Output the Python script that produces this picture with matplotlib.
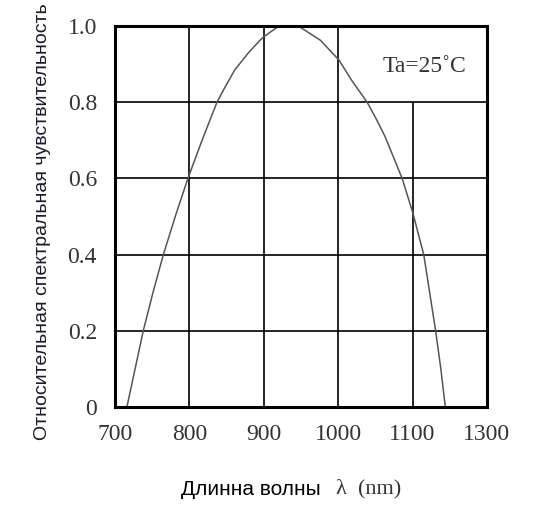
import matplotlib
matplotlib.use("Agg")
import matplotlib.pyplot as plt

# spectral response
wavelength = [716, 727, 738, 751, 765, 781, 798, 817, 837, 848, 861, 879, 895,
              900, 918, 933, 949, 976, 1001, 1018, 1039, 1052, 1063, 1086,
              1100, 1115, 1123, 1131, 1138, 1144]
response = [0.0, 0.1, 0.2, 0.3, 0.4, 0.5, 0.6, 0.7, 0.8, 0.84, 0.885, 0.929, 0.963,
            0.972, 0.997, 1.0, 0.997, 0.963, 0.911, 0.858, 0.8, 0.753, 0.71, 0.6,
            0.512, 0.4, 0.3, 0.2, 0.1, 0.0]

x_ticks = [700, 800, 900, 1000, 1100, 1200]
x_tick_labels = ['700', '800', '900', '1000', '1100', '1300']
y_ticks = [0, 0.2, 0.4, 0.6, 0.8, 1.0]
y_tick_labels = ['0', '0.2', '0.4', '0.6', '0.8', '1.0']

serif = ['Liberation Serif', 'DejaVu Serif']
narrow = ['Liberation Sans Narrow', 'Liberation Sans', 'DejaVu Sans']

fig = plt.figure(figsize=(5.46, 5.22), dpi=100)
ax = fig.add_axes([0.2106, 0.2203, 0.6813, 0.7297])

ax.set_xlim(700, 1200)
ax.set_ylim(0, 1.0)

# grid: the 1100 line stops under the Ta box
for xv in x_ticks[1:4]:
    ax.vlines(xv, 0, 1.0, color='black', linewidth=1.2)
ax.vlines(x_ticks[4], 0, 0.8, color='black', linewidth=1.2)
for yv in y_ticks[1:5]:
    ax.hlines(yv, 700, 1200, color='black', linewidth=1.2)

ax.plot(wavelength, response, color='#555555', linewidth=1.1)

for s in ax.spines.values():
    s.set_linewidth(2.2)
    s.set_color('black')

ax.set_xticks(x_ticks)
ax.set_xticklabels(x_tick_labels, family=serif, fontsize=17, color='#333333')
ax.set_yticks(y_ticks)
ax.set_yticklabels(y_tick_labels, family=serif, fontsize=17, color='#333333')
ax.tick_params(axis='both', length=0)
ax.tick_params(axis='x', pad=12)
ax.tick_params(axis='y', pad=13)

ax.text(1060, 0.893, 'Ta=25˚C', family=serif, fontsize=17, color='#333333',
        ha='left', va='center')

fig.text(0.078, 0.575, 'Относительная спектральная чувствительность',
         family=narrow, fontsize=14, rotation=90, ha='center', va='center',
         color='#1a1a2a')
fig.text(0.587, 0.062, 'Длинна волны', family=narrow, fontsize=15,
         ha='right', va='center', color='black')
fig.text(0.615, 0.064, 'λ  (nm)', family=serif, fontsize=16,
         ha='left', va='center', color='#333333')

fig.savefig('out.png', dpi=100, facecolor='white')
